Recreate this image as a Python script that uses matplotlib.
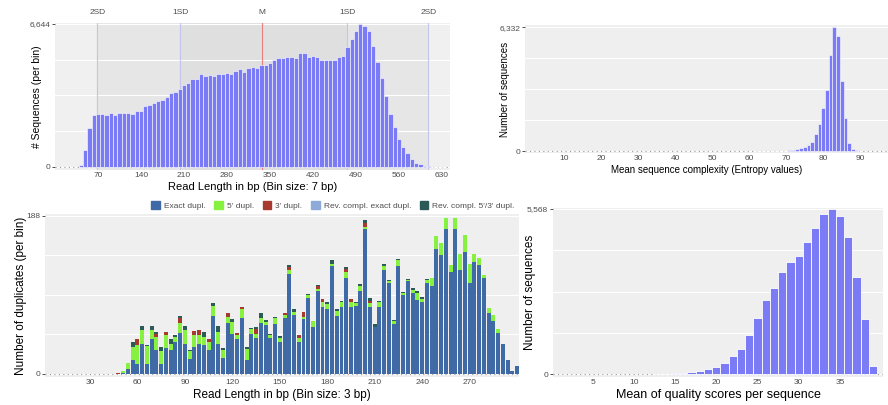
import numpy as np
import matplotlib
matplotlib.use("Agg")
import matplotlib.pyplot as plt
from matplotlib.patches import Patch

plt.rcParams['font.family'] = ['Liberation Sans', 'DejaVu Sans']

# ---- data: read length histogram (bin size 7 bp) ----
len_start = 42
len_counts = [80, 790, 1820, 2400, 2450, 2450, 2430, 2520, 2430, 2490,
              2520, 2510, 2480, 2600, 2590, 2850, 2870, 2970, 3080, 3110,
              3250, 3450, 3500, 3620, 3810, 3890, 4090, 4090, 4310, 4250,
              4280, 4230, 4320, 4310, 4370, 4340, 4480, 4540, 4400, 4600,
              4650, 4600, 4740, 4720, 4820, 4970, 5080, 5050, 5110, 5130,
              5080, 5290, 5290, 5100, 5140, 5130, 4980, 4980, 4980, 4980,
              5110, 5170, 5580, 5950, 6320, 6644, 6540, 6320, 5620, 4890,
              4150, 3310, 2480, 1880, 1320, 910, 640, 360, 200, 120,
              60, 30, 15, 8, 5]
sd_pos = [69, 204, 337, 476, 608]
sd_names = ["2SD", "1SD", "M", "1SD", "2SD"]

# ---- data: sequence complexity ----
cx_values = [62, 63, 64, 65, 66, 67, 68, 69, 70, 71, 72, 73, 74, 75, 76,
             77, 78, 79, 80, 81, 82, 83, 84, 85, 86, 87, 88, 89, 90]
cx_counts = [8, 5, 8, 5, 10, 12, 10, 12, 17, 34, 51, 102, 154, 188, 307,
             450, 870, 1366, 2185, 3140, 4916, 6332, 5890, 3570, 1690, 393,
             110, 34, 10]

# ---- data: mean quality ----
q_values = [13, 14, 15, 16, 17, 18, 19, 20, 21, 22, 23, 24, 25, 26, 27,
            28, 29, 30, 31, 32, 33, 34, 35, 36, 37, 38, 39]
q_counts = [5, 10, 22, 45, 67, 101, 157, 236, 382, 596, 855, 1327, 1879,
            2486, 2914, 3431, 3791, 3994, 4444, 4916, 5389, 5568, 5344,
            4635, 3285, 1856, 281]

# ---- data: duplicates (bin size 3 bp) ----
dup_start = 48
dup_exact = [0, 1, 6, 17, 12, 36, 12, 42, 28, 12, 31, 28, 38, 49, 36, 18,
             32, 36, 35, 28, 69, 36, 19, 60, 47, 42, 66, 16, 47, 43, 61, 58,
             43, 59, 38, 67, 119, 70, 38, 65, 90, 56, 98, 80, 77, 128, 69,
             80, 114, 80, 81, 98, 172, 80, 56, 79, 123, 108, 59, 128, 94,
             110, 96, 88, 86, 108, 104, 149, 141, 172, 121, 172, 123, 145,
             108, 133, 129, 114, 72, 63, 49, 36, 17, 4, 9]
dup_5p = [0, 2, 7, 15, 23, 16, 21, 10, 16, 15, 15, 8, 6, 12, 16, 9, 14,
          10, 9, 10, 12, 14, 10, 8, 15, 4, 11, 14, 7, 4, 6, 4, 3, 7, 5, 3,
          4, 4, 5, 3, 4, 7, 3, 5, 6, 3, 6, 5, 7, 5, 3, 6, 3, 4, 0, 6, 5, 2,
          4, 7, 2, 2, 4, 8, 3, 4, 10, 15, 14, 13, 8, 13, 20, 20, 23, 10, 9,
          4, 6, 7, 5, 0, 0, 0, 0]
dup_3p = [1, 0, 0, 0, 6, 0, 0, 0, 3, 0, 4, 0, 0, 6, 0, 0, 5, 6, 0, 4, 0,
          0, 0, 5, 0, 3, 3, 0, 0, 7, 0, 0, 0, 0, 0, 2, 4, 0, 3, 6, 0, 0, 4,
          4, 0, 0, 0, 0, 4, 4, 0, 0, 4, 3, 0, 0, 0, 0, 0, 0, 0, 0, 0, 0, 0,
          0, 0, 0, 0, 0, 0, 0, 0, 0, 0, 0, 0, 0, 0, 0, 0, 0, 0, 0, 0]
dup_rc_exact = [0, 0, 0, 0, 0, 0, 0, 0, 0, 0, 0, 0, 0, 0, 0, 0, 0, 0, 0,
                0, 0, 0, 0, 0, 0, 0, 0, 0, 0, 0, 0, 0, 0, 0, 0, 0, 0, 0, 0,
                0, 0, 0, 0, 0, 0, 0, 0, 0, 0, 0, 0, 0, 0, 0, 0, 0, 0, 0, 0,
                0, 0, 0, 0, 0, 0, 0, 0, 0, 0, 0, 0, 0, 0, 0, 0, 0, 0, 0, 0,
                0, 0, 0, 0, 0, 0]
dup_rc_53 = [0, 0, 0, 6, 0, 5, 1, 5, 3, 5, 0, 6, 2, 2, 5, 2, 0, 0, 6, 0,
             3, 7, 2, 0, 3, 0, 0, 2, 1, 2, 5, 2, 2, 2, 2, 0, 3, 3, 0, 0, 1,
             0, 1, 0, 3, 4, 2, 2, 2, 0, 2, 3, 4, 3, 3, 2, 3, 2, 1, 2, 1, 1,
             2, 2, 2, 1, 0, 0, 0, 0, 0, 0, 0, 0, 0, 0, 0, 0, 0, 0, 0, 0, 0,
             0, 0]
dup_names = ["Exact dupl.", "5' dupl.", "3' dupl.", "Rev. compl. exact dupl.",
             "Rev. compl. 5'/3' dupl."]
dup_colors = ["#3f6aa6", "#86f23f", "#a8392f", "#8eaad8", "#2b5a57"]

bar_col = "#7b7bf6"
panel_bg = "#efefef"
tick_col = "#4d4d4d"

W, H = 888, 405
fig = plt.figure(figsize=(W / 100, H / 100), dpi=100)


def add_panel(left, top, right, bottom):
    ax = fig.add_axes([left / W, 1 - bottom / H, (right - left) / W, (bottom - top) / H])
    ax.set_facecolor(panel_bg)
    for s in ax.spines.values():
        s.set_visible(False)
    ax.tick_params(axis='both', colors='#333333', labelcolor=tick_col,
                   length=2, width=0.6, labelsize=6, pad=1.5)
    ax.tick_params(axis='x', length=0)
    return ax


def finish_y(ax, ymax, nq=4):
    ax.set_yticks([0, ymax])
    ax.set_yticklabels(["0", f"{ymax:,}"])
    ax.set_yticks([ymax * k / nq for k in range(1, nq)], minor=True)
    ax.tick_params(axis='y', which='minor', length=0)
    ax.grid(True, axis='y', which='both', color='white', lw=0.8)
    ax.set_axisbelow(True)


# ---------- top left ----------
ax1 = add_panel(55, 23, 450, 170)
ax1.set_xlim(0, 643)
ax1.set_ylim(-140, 6690)
ax1.axvspan(0, sd_pos[0], color='#f0f0f0', zorder=0)
ax1.axvspan(sd_pos[0], sd_pos[1], color='#e6e6e6', zorder=0)
ax1.axvspan(sd_pos[1], sd_pos[3], color='#dfdfdf', zorder=0)
ax1.axvspan(sd_pos[3], sd_pos[4], color='#e6e6e6', zorder=0)
ax1.axvspan(sd_pos[4], 643, color='#f0f0f0', zorder=0)
finish_y(ax1, 6644)
len_bins = len_start + 7 * np.arange(len(len_counts))
ax1.axhline(0, color='#9a9a9a', ls=(0, (1, 3)), lw=0.8, zorder=1)
ax1.bar(len_bins, len_counts, width=7, color=bar_col, edgecolor='white',
        linewidth=0.4, zorder=3)
for p, n in zip(sd_pos, sd_names):
    c = '#e88080' if n == "M" else '#c4c4ec'
    ax1.axvline(p, color=c, lw=0.8, zorder=2)
    ax1.text(p, 1.07, n, transform=ax1.get_xaxis_transform(), ha='center',
             va='center', fontsize=6, color=tick_col)
ax1.set_xticks(np.arange(70, 631, 70))
ax1.set_ylabel("# Sequences (per bin)", fontsize=7.5)
ax1.yaxis.set_label_coords(-0.033, 0.5)
ax1.set_xlabel("Read Length in bp (Bin size: 7 bp)", fontsize=8, labelpad=2)

# ---------- top right ----------
ax2 = add_panel(525, 25, 888, 153)
ax2.set_xlim(-0.6, 97.5)
ax2.set_ylim(-102, 6450)
finish_y(ax2, 6332)
ax2.axhline(0, color='#9a9a9a', ls=(0, (1, 3)), lw=0.8, zorder=1)
ax2.bar(cx_values, cx_counts, width=1, color=bar_col, edgecolor='white',
        linewidth=0.4, zorder=3)
ax2.set_xticks(np.arange(10, 91, 10))
ax2.set_ylabel("Number of sequences", fontsize=7)
ax2.yaxis.set_label_coords(-0.041, 0.5)
ax2.set_xlabel("Mean sequence complexity (Entropy values)", fontsize=7, labelpad=2)

# ---------- bottom left ----------
ax3 = add_panel(45, 214, 519, 377)
ax3.set_xlim(1.6, 301.2)
ax3.set_ylim(-3.6, 190)
finish_y(ax3, 188)
ax3.axhline(0, color='#9a9a9a', ls=(0, (1, 3)), lw=0.8, zorder=1)
dup_bins = dup_start + 3 * np.arange(len(dup_exact))
base = np.zeros(len(dup_exact))
for vals, col in zip([dup_exact, dup_5p, dup_3p, dup_rc_exact, dup_rc_53], dup_colors):
    ax3.bar(dup_bins, vals, bottom=base, width=2.5, color=col, zorder=3)
    base = base + np.array(vals)
ax3.set_xticks(np.arange(30, 271, 30))
ax3.set_ylabel("Number of duplicates (per bin)", fontsize=8.5)
ax3.yaxis.set_label_coords(-0.038, 0.5)
ax3.set_xlabel("Read Length in bp (Bin size: 3 bp)", fontsize=8.5, labelpad=2)
handles = [Patch(color=c, label=n) for c, n in zip(dup_colors, dup_names)]
ax3.legend(handles=handles, ncol=5, loc='lower right', bbox_to_anchor=(1.0, 1.0),
           frameon=False, fontsize=6, handlelength=1.0, handleheight=1.0,
           handletextpad=0.5, columnspacing=1.05, borderaxespad=0.1,
           labelcolor=tick_col)

# ---------- bottom right ----------
ax4 = add_panel(553, 208, 883, 377)
ax4.set_xlim(0.2, 40.2)
ax4.set_ylim(-101, 5602)
finish_y(ax4, 5568)
ax4.axhline(0, color='#9a9a9a', ls=(0, (1, 3)), lw=0.8, zorder=1)
ax4.bar(q_values, q_counts, width=1, color=bar_col, edgecolor='white',
        linewidth=0.6, zorder=3)
ax4.set_xticks(np.arange(5, 36, 5))
ax4.set_ylabel("Number of sequences", fontsize=8.5)
ax4.yaxis.set_label_coords(-0.0515, 0.5)
ax4.set_xlabel("Mean of quality scores per sequence", fontsize=9, labelpad=2)

fig.savefig("out.png", dpi=100, facecolor='white')
